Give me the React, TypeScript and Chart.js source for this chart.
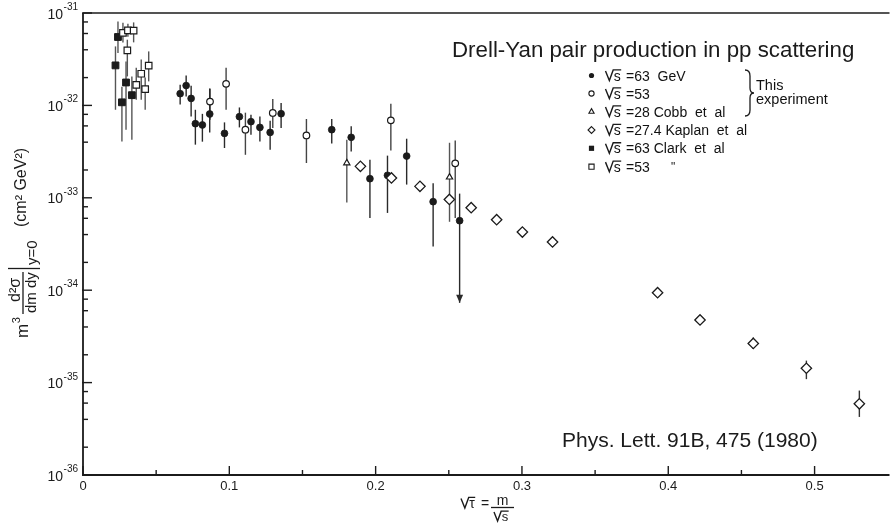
import React, { useEffect, useRef } from 'react';
import { Chart, registerables } from 'chart.js';
Chart.register(...registerables);

// ---- data (x = sqrt(tau) = m/sqrt(s), y = m^3 d2sigma/dm dy |y=0 in cm^2 GeV^2) ----
// sqrt(s) = 63 GeV, this experiment (filled circles)
const exp63X = [0.0664, 0.0705, 0.0739, 0.0768, 0.0816, 0.0866, 0.0967, 0.1069, 0.1148, 0.1209, 0.1279, 0.1354, 0.170, 0.1833, 0.1961, 0.2081, 0.2212, 0.2393, 0.2574];
const exp63Y = [1.34e-32, 1.64e-32, 1.19e-32, 6.34e-33, 6.14e-33, 8.07e-33, 4.98e-33, 7.55e-33, 6.67e-33, 5.78e-33, 5.1e-33, 8.13e-33, 5.46e-33, 4.51e-33, 1.61e-33, 1.75e-33, 2.83e-33, 9.08e-34, 5.65e-34];
const exp63Hi = [1.67e-32, 2.11e-32, 1.63e-32, 8.97e-33, 8.1e-33, 1.52e-32, 6.55e-33, 9.5e-33, 7.93e-33, 7.6e-33, 6.82e-33, 1.06e-32, 7.13e-33, 5.93e-33, 2.58e-33, 2.86e-33, 4.36e-33, 1.44e-33, 1.11e-33];
const exp63Lo = [1.02e-32, 1.25e-32, 7.6e-33, 3.76e-33, 4.05e-33, 5.1e-33, 3.46e-33, 5.78e-33, 4.82e-33, 4.07e-33, 3.32e-33, 5.69e-33, 3.86e-33, 3.18e-33, 6.04e-34, 6.86e-34, 1.39e-33, 2.98e-34, 7.3e-35];
const exp63Arrow = [false, false, false, false, false, false, false, false, false, false, false, false, false, false, false, false, false, false, true];

// sqrt(s) = 53 GeV, this experiment (open circles)
const exp53X = [0.0868, 0.0978, 0.111, 0.1297, 0.1527, 0.2104, 0.2544];
const exp53Y = [1.10e-32, 1.71e-32, 5.46e-33, 8.28e-33, 4.73e-33, 6.89e-33, 2.36e-33];
const exp53Hi = [1.51e-32, 2.56e-32, 8.34e-33, 1.17e-32, 7.13e-33, 1.04e-32, 4.18e-33];
const exp53Lo = [7.0e-33, 8.97e-33, 2.92e-33, 5.69e-33, 2.38e-33, 3.26e-33, 6.04e-34];

// sqrt(s) = 28, Cobb et al (open triangles)
const cobbX = [0.1803, 0.2505];
const cobbY = [2.38e-33, 1.67e-33];
const cobbHi = [4.26e-33, 3.94e-33];
const cobbLo = [8.9e-34, 5.5e-34];

// sqrt(s) = 27.4, Kaplan et al (open diamonds)
const kaplanX = [0.1896, 0.2108, 0.2303, 0.2504, 0.2653, 0.2827, 0.3003, 0.3209, 0.3927, 0.4217, 0.4581, 0.4944, 0.5306];
const kaplanY = [2.19e-33, 1.64e-33, 1.33e-33, 9.6e-34, 7.82e-34, 5.79e-34, 4.26e-34, 3.33e-34, 9.4e-35, 4.76e-35, 2.65e-35, 1.43e-35, 5.9e-36];
const kaplanHi = [null, null, null, null, null, null, null, null, null, null, 3.08e-35, 1.73e-35, 8.2e-36];
const kaplanLo = [null, null, null, null, null, null, null, null, null, null, 2.31e-35, 1.09e-35, 4.25e-36];

// sqrt(s) = 63, Clark et al (filled squares)
const clark63X = [0.0222, 0.0239, 0.0266, 0.0294, 0.0334];
const clark63Y = [2.71e-32, 5.50e-32, 1.08e-32, 1.77e-32, 1.29e-32];
const clark63Hi = [4.35e-32, 8.1e-32, 1.59e-32, 2.99e-32, 2.06e-32];
const clark63Lo = [8.97e-33, 3.69e-32, 4.07e-33, 5.46e-33, 4.26e-33];

// sqrt(s) = 53, Clark et al (open squares)
const clark53X = [0.0273, 0.0303, 0.0307, 0.0346, 0.0364, 0.0398, 0.0425, 0.0449];
const clark53Y = [6.08e-32, 3.94e-32, 6.49e-32, 6.43e-32, 1.67e-32, 2.20e-32, 1.50e-32, 2.69e-32];
const clark53Hi = [7.85e-32, 5.14e-32, 7.66e-32, 7.91e-32, 2.56e-32, 3.13e-32, 2.0e-32, 3.84e-32];
const clark53Lo = [4.78e-32, 2.06e-32, 5.54e-32, 4.81e-32, 1.15e-32, 1.15e-32, 8.97e-33, 1.82e-32];

// ---- axes ----
const xMajorTicks = [0, 0.1, 0.2, 0.3, 0.4, 0.5];
const xTickLabels = ['0', '0.1', '0.2', '0.3', '0.4', '0.5'];
const xMinorTicks = [0.05, 0.15, 0.25, 0.35, 0.45];
const yDecades = [-31, -32, -33, -34, -35, -36];
const yMinorMultipliers = [2, 4, 6, 8];

// ---- texts ----
const titleText = 'Drell-Yan pair production in pp scattering';
const refText = 'Phys. Lett. 91B, 475 (1980)';
const legendRest = [' =63  GeV', ' =53', ' =28 Cobb  et  al', ' =27.4 Kaplan  et  al', ' =63 Clark  et  al', ' =53'];
const legendMarkers = ['fcircle', 'ocircle', 'triangle', 'diamond', 'fsquare', 'osquare'];

const SANS = '"Liberation Sans", Arial, sans-serif';
const INK = '#1b1b1b';

function build(xs: number[], ys: number[], lo: (number | null)[], hi: (number | null)[], arrow?: boolean[]) {
  return xs.map((x, i) => ({ x, y: ys[i], lo: lo[i], hi: hi[i], arrow: arrow ? arrow[i] : false }));
}

function drawMarker(ctx: CanvasRenderingContext2D, kind: string, x: number, y: number, s: number) {
  ctx.save();
  ctx.lineWidth = 1.1;
  ctx.strokeStyle = INK;
  ctx.fillStyle = INK;
  ctx.beginPath();
  if (kind === 'fcircle' || kind === 'ocircle') {
    ctx.arc(x, y, s, 0, Math.PI * 2);
  } else if (kind === 'fsquare' || kind === 'osquare') {
    ctx.rect(x - s, y - s, 2 * s, 2 * s);
  } else if (kind === 'triangle') {
    ctx.moveTo(x, y - s * 1.1);
    ctx.lineTo(x + s, y + s * 0.7);
    ctx.lineTo(x - s, y + s * 0.7);
    ctx.closePath();
  } else if (kind === 'diamond') {
    ctx.moveTo(x, y - s * 1.2);
    ctx.lineTo(x + s * 1.2, y);
    ctx.lineTo(x, y + s * 1.2);
    ctx.lineTo(x - s * 1.2, y);
    ctx.closePath();
  }
  if (kind.startsWith('f')) {
    ctx.fill();
  } else {
    ctx.fillStyle = '#fff';
    ctx.fill();
    ctx.stroke();
  }
  ctx.restore();
}

function sqrtSym(ctx: CanvasRenderingContext2D, x: number, y: number, ch: string, size: number) {
  // a root sign followed by a character, with the vinculum over it
  ctx.save();
  ctx.font = `${size}px ${SANS}`;
  const wc = ctx.measureText(ch).width;
  const h = size * 0.72;
  const vw = size * 0.55;
  ctx.strokeStyle = INK;
  ctx.lineWidth = 1.4;
  ctx.beginPath();
  ctx.moveTo(x, y - h * 0.95);
  ctx.lineTo(x + vw * 0.5, y);
  ctx.lineTo(x + vw, y - h * 1.05);
  ctx.lineTo(x + vw + wc + 1, y - h * 1.05);
  ctx.stroke();
  ctx.fillText(ch, x + vw + 0.5, y);
  ctx.restore();
  return vw + wc + 1;
}

function rotText(ctx: CanvasRenderingContext2D, text: string, sx: number, sy: number, font: string) {
  ctx.save();
  ctx.translate(sx, sy);
  ctx.rotate(-Math.PI / 2);
  ctx.font = font;
  ctx.textAlign = 'left';
  ctx.textBaseline = 'alphabetic';
  ctx.fillText(text, 0, 0);
  const w = ctx.measureText(text).width;
  ctx.restore();
  return w;
}

const decor = {
  id: 'decor',
  beforeDatasetsDraw(chart: any) {
    const ctx: CanvasRenderingContext2D = chart.ctx;
    const xs = chart.scales.x;
    const ys = chart.scales.y;
    ctx.save();
    chart.data.datasets.forEach((ds: any) => {
      ctx.strokeStyle = ds.errColor || '#333';
      ctx.fillStyle = ds.errColor || '#333';
      ctx.lineWidth = 1.4;
      ds.data.forEach((d: any) => {
        if (d.lo == null || d.hi == null) return;
        const px = xs.getPixelForValue(d.x);
        const y1 = ys.getPixelForValue(d.hi);
        const y2 = ys.getPixelForValue(d.lo);
        ctx.beginPath();
        ctx.moveTo(px, y1);
        ctx.lineTo(px, y2);
        ctx.stroke();
        if (d.arrow) {
          ctx.beginPath();
          ctx.moveTo(px - 3.5, y2 - 8);
          ctx.lineTo(px + 3.5, y2 - 8);
          ctx.lineTo(px, y2);
          ctx.closePath();
          ctx.fill();
        }
      });
    });
    ctx.restore();
  },
  afterDraw(chart: any) {
    const ctx: CanvasRenderingContext2D = chart.ctx;
    const xs = chart.scales.x;
    const ys = chart.scales.y;
    const { left, right, top, bottom } = chart.chartArea;
    ctx.save();
    ctx.strokeStyle = INK;
    ctx.fillStyle = INK;
    // axes
    ctx.lineWidth = 1.8;
    ctx.beginPath();
    ctx.moveTo(left, top);
    ctx.lineTo(left, bottom);
    ctx.lineTo(right, bottom);
    ctx.stroke();
    ctx.lineWidth = 1.5;
    ctx.beginPath();
    ctx.moveTo(left, top);
    ctx.lineTo(right, top);
    ctx.stroke();

    // y ticks and labels
    ctx.lineWidth = 1.4;
    yDecades.forEach((d) => {
      const py = ys.getPixelForValue(Math.pow(10, d));
      ctx.beginPath();
      ctx.moveTo(left - 1, py);
      ctx.lineTo(left + 9, py);
      ctx.stroke();
      ctx.font = `10px ${SANS}`;
      const exp = String(d);
      const ew = ctx.measureText(exp).width;
      ctx.textAlign = 'left';
      ctx.fillText(exp, 78 - ew, py - 3);
      ctx.font = `14px ${SANS}`;
      const bw = ctx.measureText('10').width;
      ctx.fillText('10', 78 - ew - bw - 0.5, py + 5.5);
      if (d > -36) {
        yMinorMultipliers.forEach((m) => {
          const pm = ys.getPixelForValue(m * Math.pow(10, d - 1));
          ctx.beginPath();
          ctx.moveTo(left, pm);
          ctx.lineTo(left + 5, pm);
          ctx.stroke();
        });
      }
    });

    // x ticks and labels
    ctx.font = `13px ${SANS}`;
    ctx.textAlign = 'center';
    xMajorTicks.forEach((v, i) => {
      const px = xs.getPixelForValue(v);
      ctx.beginPath();
      ctx.moveTo(px, bottom);
      ctx.lineTo(px, bottom - 9);
      ctx.stroke();
      ctx.fillText(xTickLabels[i], px, bottom + 15);
    });
    xMinorTicks.forEach((v) => {
      const px = xs.getPixelForValue(v);
      ctx.beginPath();
      ctx.moveTo(px, bottom);
      ctx.lineTo(px, bottom - 5);
      ctx.stroke();
    });

    // x title:  sqrt(tau) = m / sqrt(s)
    ctx.textAlign = 'left';
    ctx.font = `14px ${SANS}`;
    sqrtSym(ctx, 461, 508, 'τ', 14);
    ctx.font = `14px ${SANS}`;
    ctx.fillText('=', 481, 508);
    ctx.lineWidth = 1.3;
    ctx.beginPath();
    ctx.moveTo(491, 507.5);
    ctx.lineTo(514, 507.5);
    ctx.stroke();
    ctx.font = `14px ${SANS}`;
    ctx.textAlign = 'center';
    ctx.fillText('m', 502.5, 505);
    ctx.textAlign = 'left';
    sqrtSym(ctx, 494, 521, 's', 13);

    // y title (rotated)
    const f15 = `15px ${SANS}`;
    const wm = rotText(ctx, 'm', 28, 338, `17px ${SANS}`);
    rotText(ctx, '3', 20, 338 - wm - 0.5, `11px ${SANS}`);
    rotText(ctx, 'd²σ', 20, 302, `16px ${SANS}`);
    ctx.lineWidth = 1.3;
    ctx.beginPath();
    ctx.moveTo(23, 314);
    ctx.lineTo(23, 272);
    ctx.stroke();
    rotText(ctx, 'dm dy', 35.5, 313, f15);
    ctx.beginPath();
    ctx.moveTo(8, 268.5);
    ctx.lineTo(40, 268.5);
    ctx.stroke();
    rotText(ctx, 'y=0', 37, 265, f15);
    rotText(ctx, '(cm² GeV²)', 26, 227, `16px ${SANS}`);

    // title and reference
    ctx.font = `22.3px ${SANS}`;
    ctx.textAlign = 'left';
    ctx.fillText(titleText, 452, 57);
    ctx.font = `21px ${SANS}`;
    ctx.fillText(refText, 562, 446.5);

    // legend
    const rowY = [75.5, 93.5, 111.5, 130, 148.3, 166.7];
    const msize: Record<string, number> = { fcircle: 2.6, ocircle: 2.6, triangle: 2.6, diamond: 2.9, fsquare: 2.6, osquare: 2.6 };
    legendMarkers.forEach((k, i) => {
      const y = rowY[i];
      drawMarker(ctx, k, 591.5, y, msize[k]);
      ctx.fillStyle = '#111';
      ctx.font = `14px ${SANS}`;
      const w = sqrtSym(ctx, 605.5, y + 5, 's', 14);
      ctx.font = `14px ${SANS}`;
      ctx.fillText(legendRest[i], 605.5 + w + 1, y + 5);
    });
    ctx.font = `12px ${SANS}`;
    ctx.fillText('"', 671, rowY[5] + 4);
    // brace
    ctx.lineWidth = 1.3;
    ctx.beginPath();
    ctx.moveTo(745, 70);
    ctx.quadraticCurveTo(750, 70, 750, 76);
    ctx.lineTo(750, 88);
    ctx.quadraticCurveTo(750, 93, 754, 93);
    ctx.quadraticCurveTo(750, 93, 750, 98);
    ctx.lineTo(750, 110);
    ctx.quadraticCurveTo(750, 116, 745, 116);
    ctx.stroke();
    ctx.font = `14.5px ${SANS}`;
    ctx.fillText('This', 756, 90);
    ctx.fillText('experiment', 756, 104);
    ctx.restore();
  },
};

export default function App() {
  const ref = useRef<HTMLCanvasElement | null>(null);
  useEffect(() => {
    if (!ref.current) return;
    const chart = new Chart(ref.current, {
      type: 'scatter',
      data: {
        datasets: [
          {
            label: 'Clark 53',
            data: build(clark53X, clark53Y, clark53Lo, clark53Hi),
            pointStyle: 'rect', pointRadius: 4.6, borderWidth: 1.2,
            borderColor: INK, backgroundColor: '#fff', errColor: '#555',
          } as any,
          {
            label: 'Clark 63',
            data: build(clark63X, clark63Y, clark63Lo, clark63Hi),
            pointStyle: 'rect', pointRadius: 4.8, borderWidth: 1,
            borderColor: INK, backgroundColor: INK, errColor: '#555',
          } as any,
          {
            label: 'Kaplan 27.4',
            data: build(kaplanX, kaplanY, kaplanLo, kaplanHi),
            pointStyle: 'rectRot', pointRadius: 5.2, borderWidth: 1.3,
            borderColor: INK, backgroundColor: '#fff', errColor: '#333',
          } as any,
          {
            label: 'Cobb 28',
            data: build(cobbX, cobbY, cobbLo, cobbHi),
            pointStyle: 'triangle', pointRadius: 3.6, borderWidth: 1.2,
            borderColor: INK, backgroundColor: '#fff', errColor: '#555',
          } as any,
          {
            label: '53 GeV',
            data: build(exp53X, exp53Y, exp53Lo, exp53Hi),
            pointStyle: 'circle', pointRadius: 3.3, borderWidth: 1.2,
            borderColor: INK, backgroundColor: '#fff', errColor: '#444',
          } as any,
          {
            label: '63 GeV',
            data: build(exp63X, exp63Y, exp63Lo, exp63Hi, exp63Arrow),
            pointStyle: 'circle', pointRadius: 3.4, borderWidth: 0.8,
            borderColor: INK, backgroundColor: INK, errColor: '#2a2a2a',
          } as any,
        ],
      },
      options: {
        animation: false,
        responsive: false,
        events: [],
        layout: { padding: { left: 83, top: 13, right: 0, bottom: 48 } },
        plugins: { legend: { display: false }, tooltip: { enabled: false } },
        scales: {
          x: { type: 'linear', display: false, min: 0, max: 0.5512 },
          y: { type: 'logarithmic', display: false, min: 1e-36, max: 1e-31 },
        },
      },
      plugins: [decor],
    });
    return () => chart.destroy();
  }, []);
  return (
    <div style={{ position: 'absolute', left: 0, top: 0, background: '#fff' }}>
      <canvas ref={ref} width={896} height={523} style={{ display: 'block' }} />
    </div>
  );
}
